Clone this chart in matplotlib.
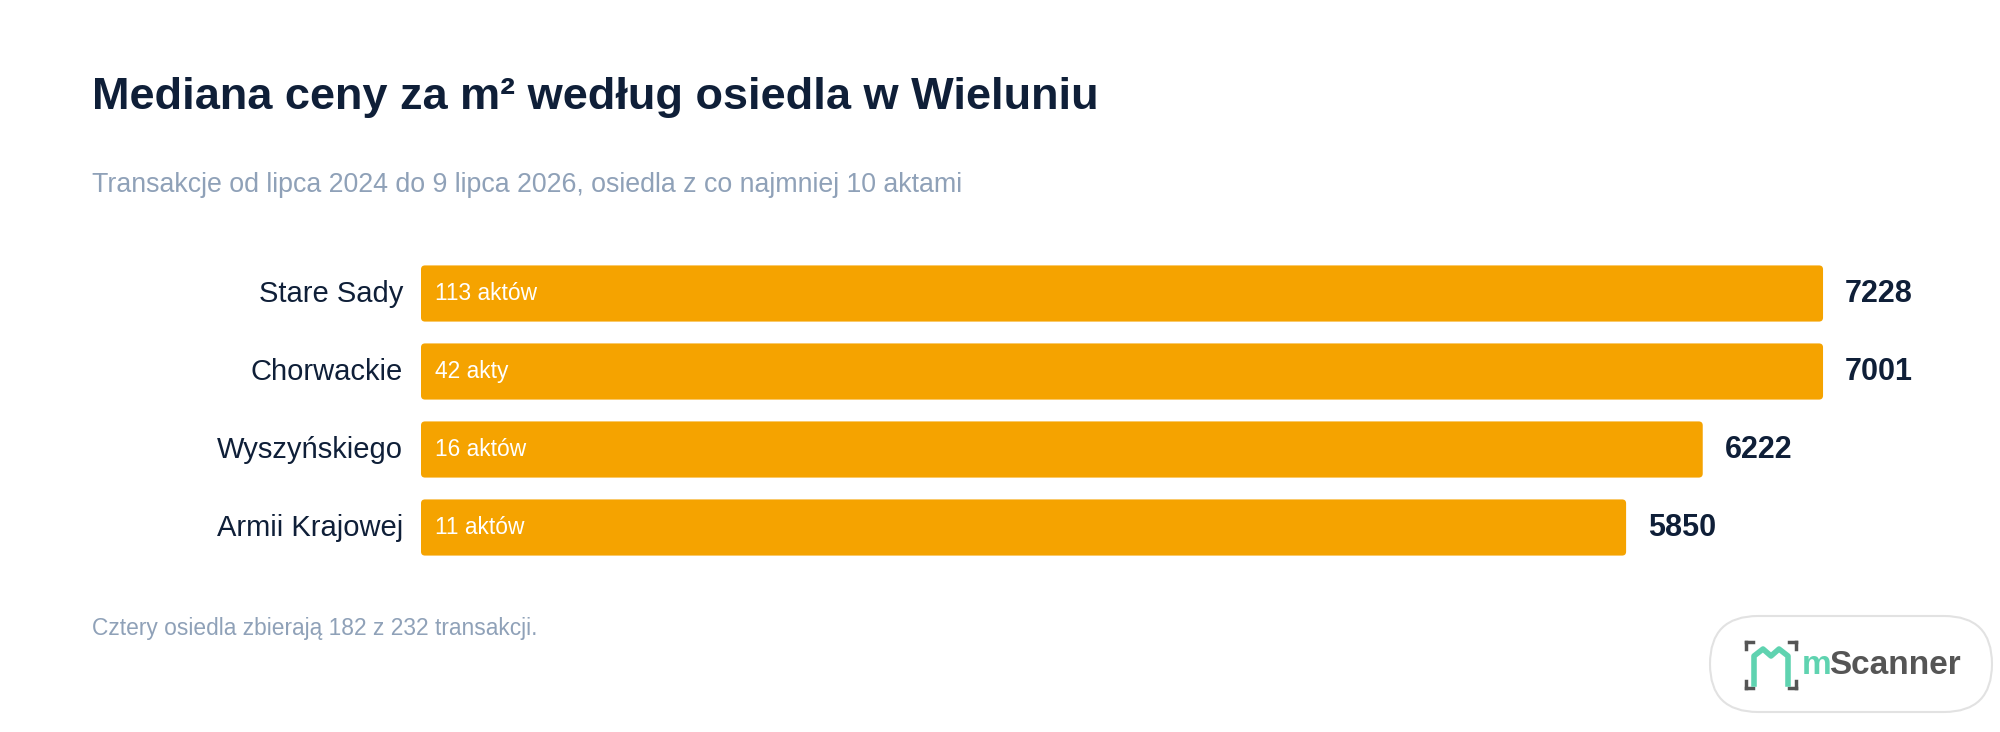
import matplotlib
matplotlib.use("Agg")
import matplotlib.pyplot as plt
from matplotlib.patches import FancyBboxPatch

plt.rcParams['font.family'] = ['Liberation Sans', 'DejaVu Sans']

categories = ["Stare Sady", "Chorwackie", "Wyszyńskiego", "Armii Krajowej"]
values = [7228, 7001, 6222, 5850]
counts = ["113 aktów", "42 akty", "16 aktów", "11 aktów"]
bar_cap = 6806  # bars longer than this are clipped in the reference layout

W, H = 2000, 732
fig = plt.figure(figsize=(20, 7.32), dpi=100)
fig.patch.set_facecolor("white")

ax_w_px = 1648
ax = fig.add_axes([421 / W, 1 - 566.5 / H, ax_w_px / W, 312 / H])
xmax = 8000
ax.set_xlim(0, xmax)
ax.set_ylim(3.5, -0.5)
ax.axis("off")
upx = xmax / ax_w_px  # data units per pixel

dark = "#0f1f38"
bar_color = "#f5a300"
for i, (c, v, n) in enumerate(zip(categories, values, counts)):
    L = min(v, bar_cap)
    ax.add_patch(FancyBboxPatch((0, i - 0.36), L, 0.72,
                                boxstyle="round,pad=0,rounding_size=%f" % (4 * upx),
                                mutation_aspect=(4 / 312) / upx,
                                fc=bar_color, ec="none"))
    ax.text(14 * upx, i, n, color="white", fontsize=16.4, va="center", ha="left")
    ax.text(L + 22 * upx, i, str(v), color=dark, fontsize=22, fontweight="bold",
            va="center", ha="left")
    ax.text(-18 * upx, i, c, color=dark, fontsize=21, va="center", ha="right")

fig.text(92 / W, 1 - 97 / H, "Mediana ceny za m² według osiedla w Wieluniu",
         fontsize=32.5, fontweight="bold", color=dark, va="center", ha="left")
fig.text(92 / W, 1 - 185 / H,
         "Transakcje od lipca 2024 do 9 lipca 2026, osiedla z co najmniej 10 aktami",
         fontsize=19.3, color="#8fa1b8", va="center", ha="left")
fig.text(92 / W, 1 - 629 / H, "Cztery osiedla zbierają 182 z 232 transakcji.",
         fontsize=16.4, color="#8fa1b8", va="center", ha="left")

# logo pill
pill = FancyBboxPatch((1710 / W, 1 - 712 / H), 282 / W, 96 / H,
                      boxstyle="round,pad=0,rounding_size=0.024",
                      mutation_aspect=W / H,
                      transform=fig.transFigure, fc="white", ec="#e2e2e2", lw=1.5)
fig.patches.append(pill)
yc = 1 - 665 / H
fig.text(1802 / W, yc, "m", fontsize=24, fontweight="semibold", color="#5fd3b0", va="center", ha="left")
fig.text(1829 / W, yc, "Scanner", fontsize=24, fontweight="semibold", color="#555555", va="center", ha="left")
gx = "#555555"
x0, x1 = 1746, 1796
y0, y1 = 642, 688
for (xa, ya, dx, dy) in [(x0, y0, 1, 1), (x1, y0, -1, 1), (x0, y1, 1, -1), (x1, y1, -1, -1)]:
    fig.lines.append(plt.Line2D([xa / W, (xa + 7 * dx) / W], [1 - ya / H, 1 - ya / H],
                                transform=fig.transFigure, color=gx, lw=2.5))
    fig.lines.append(plt.Line2D([xa / W, xa / W], [1 - ya / H, 1 - (ya + 7 * dy) / H],
                                transform=fig.transFigure, color=gx, lw=2.5))
hx = [1754, 1754, 1763, 1771, 1779, 1788, 1788]
hy = [684, 656, 649, 656, 649, 656, 684]
fig.lines.append(plt.Line2D([x / W for x in hx], [1 - y / H for y in hy],
                            transform=fig.transFigure, color="#5fd3b0", lw=4))

fig.savefig("out.png", dpi=100, facecolor="white")
